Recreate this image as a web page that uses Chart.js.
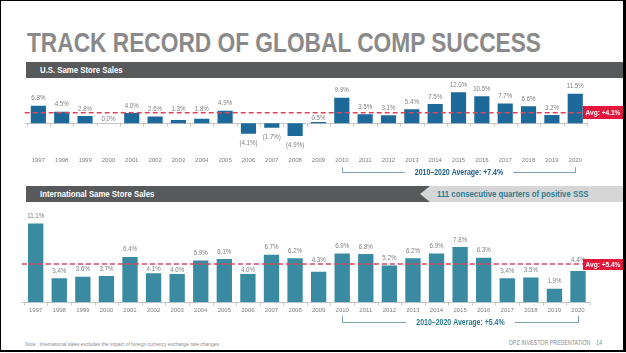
<!DOCTYPE html>
<html>
<head>
<meta charset="utf-8">
<script src="https://cdn.jsdelivr.net/npm/chart.js@4.4.1/dist/chart.umd.min.js"></script>
<style>
  body { margin: 0; width: 626px; height: 353px; overflow: hidden; background: #fff; position: relative;
         font-family: "Liberation Sans Narrow", "Arial Narrow", "Liberation Sans", Arial, sans-serif; }
  .frame { position: absolute; left: 0; top: 0; width: 626px; height: 352px; box-sizing: border-box;
           border-left: 1px solid #000; border-top: 1px solid #000; border-right: 3px solid #000; border-bottom: 2px solid #000; }
  .title { position: absolute; left: 27px; top: 29px; font-size: 28px; line-height: 28px; font-weight: bold;
           color: #8a8a8a; white-space: nowrap; transform-origin: 0 0; }
  .bar { position: absolute; height: 16px; background: #58595b; color: #fff; font-weight: bold; font-size: 9.5px;
         line-height: 16px; box-sizing: border-box; padding-left: 14px; white-space: nowrap; }
  .banner { position: absolute; left: 420px; top: 186px; width: 206px; height: 16px; background: #d6d6d6;
            clip-path: polygon(0 50%, 10px 0, 100% 0, 100% 100%, 10px 100%); }
  .banner span { position: absolute; left: 17px; top: 0; line-height: 16px; font-size: 9.5px; font-weight: bold; color: #2f7b8f; }
  .sq { display: inline-block; white-space: nowrap; transform-origin: 0 50%; }
  .small { position: absolute; font-size: 12px; color: #8a8a8a; white-space: nowrap; transform-origin: 0 0; line-height: 12px; }
  canvas { position: absolute; left: 0; }
</style>
</head>
<body>
<div class="title" id="title">TRACK RECORD OF GLOBAL COMP SUCCESS</div>
<div class="bar" style="left:26px; top:62px; width:600px;"><span class="sq">U.S. Same Store Sales</span></div>
<canvas id="usChart" width="626" height="100" style="top:80px"></canvas>
<div class="bar" style="left:26px; top:186px; width:404px;"><span class="sq">International Same Store Sales</span></div>
<div class="banner"><span class="sq">111 consecutive quarters of positive SSS</span></div>
<canvas id="intlChart" width="626" height="130" style="top:205px"></canvas>
<div class="small" id="note" style="left:25px; top:341px;">Note:&nbsp;&nbsp;International sales excludes the impact of foreign currency exchange rate changes.</div>
<div class="small" id="footer" style="left:509px; top:340px; font-size:13px;">DPZ INVESTOR PRESENTATION&nbsp;&nbsp;&nbsp;&nbsp;14</div>
<div class="frame"></div>

<script>
// values
const years = ['1997', '1998', '1999', '2000', '2001', '2002', '2003', '2004', '2005', '2006', '2007', '2008',
               '2009', '2010', '2011', '2012', '2013', '2014', '2015', '2016', '2017', '2018', '2019', '2020'];
const usSss = [6.8, 4.5, 2.8, 0.0, 4.0, 2.6, 1.3, 1.8, 4.9, -4.1, -1.7, -4.9,
               0.5, 9.9, 3.5, 3.1, 5.4, 7.5, 12.0, 10.5, 7.7, 6.6, 3.2, 11.5];
const intlSss = [11.1, 3.4, 3.6, 3.7, 6.4, 4.1, 4.0, 5.9, 6.1, 4.0, 6.7, 6.2,
                 4.3, 6.9, 6.8, 5.2, 6.2, 6.9, 7.8, 6.3, 3.4, 3.5, 1.9, 4.4];
const usAvg = 4.1;
const intlAvg = 5.4;
const usRecentAvg = 7.4;
const intlRecentAvg = 5.4;
const recentFrom = '2010';
const recentTo = '2020';

const NARROW = '"Liberation Sans Narrow", "Arial Narrow", "Liberation Sans", Arial, sans-serif';
Chart.defaults.font.family = NARROW;

// if no narrow face is installed, squeeze text horizontally instead
const probe = document.createElement('canvas').getContext('2d');
probe.font = `20px ${NARROW}`;
const wNarrow = probe.measureText('Same Store Sales 2010').width;
probe.font = '20px "Liberation Sans", Arial, sans-serif';
const wWide = probe.measureText('Same Store Sales 2010').width;
const SQ = Math.abs(wNarrow - wWide) < 0.5 ? 0.82 : 1;

document.querySelectorAll('.sq').forEach(el => el.style.transform = `scaleX(${SQ})`);
document.getElementById('note').style.transform = `scale(${0.5 * SQ}, 0.5)`;
document.getElementById('footer').style.transform = `scale(${0.5 * SQ}, 0.5)`;
const titleEl = document.getElementById('title');
const tw = titleEl.getBoundingClientRect().width;
if (tw > 0) titleEl.style.transform = `scaleX(${514 / tw})`;

const pct = v => v < 0 ? `(${Math.abs(v).toFixed(1)}%)` : `${v.toFixed(1)}%`;

function squeezedText(ctx, text, x, y, align) {
    ctx.save();
    ctx.translate(x, y);
    ctx.scale(SQ, 1);
    ctx.textAlign = align;
    ctx.fillText(text, 0, 0);
    ctx.restore();
}

const slideMarks = {
    id: 'slideMarks',
    beforeDatasetsDraw(chart) {
        const { ctx, chartArea: a, scales: { x, y } } = chart;
        const y0 = Math.round(y.getPixelForValue(0)) + 0.5;
        const step = x.getPixelForValue(1) - x.getPixelForValue(0);
        ctx.save();
        ctx.strokeStyle = '#c6c6c6';
        ctx.lineWidth = 1;
        ctx.beginPath();
        ctx.moveTo(a.left - 2, y0);
        ctx.lineTo(a.right + 1, y0);
        for (let i = 0; i <= chart.data.labels.length; i++) {
            const px = Math.round(x.getPixelForValue(i) - step / 2) + 0.5;
            ctx.moveTo(px, y0);
            ctx.lineTo(px, y0 + 3);
        }
        ctx.stroke();
        ctx.restore();
    },
    afterDatasetsDraw(chart, args, opts) {
        const { ctx, chartArea: a, scales: { x, y } } = chart;
        const avgY = y.getPixelForValue(opts.avg);
        const W = chart.width;

        ctx.save();
        // average dashed line
        ctx.strokeStyle = '#d8475e';
        ctx.lineWidth = 1.6;
        ctx.setLineDash([5, 3]);
        ctx.beginPath();
        ctx.moveTo(a.left - 2, avgY);
        ctx.lineTo(583, avgY);
        ctx.stroke();
        ctx.setLineDash([]);

        // value labels
        ctx.font = `7.5px ${NARROW}`;
        ctx.fillStyle = '#7f7f7f';
        ctx.textBaseline = 'middle';
        const values = chart.data.datasets[0].data;
        chart.getDatasetMeta(0).data.forEach((bar, i) => {
            const v = values[i];
            let cy;
            if (v < 0) {
                cy = Math.max(bar.y, bar.base) + 9.2;
            } else {
                cy = bar.y - 7.5;
                if (Math.abs(cy - avgY) < 4.5) {
                    cy = bar.y > avgY + 8.5 ? bar.y - 4 : avgY - 4.2;
                }
            }
            squeezedText(ctx, pct(v), bar.x, cy, 'center');
        });

        // red average tag
        ctx.fillStyle = '#e2173b';
        ctx.fillRect(583, Math.round(avgY - opts.tagH / 2), W - 583, opts.tagH);
        ctx.fillStyle = '#fff';
        ctx.font = `bold 8px ${NARROW}`;
        squeezedText(ctx, `Avg: +${opts.avg.toFixed(1)}%`, 585.5, avgY + 0.5, 'left');

        // 2010-2020 bracket
        const bx1 = Math.round(x.getPixelForValue(years.indexOf(recentFrom))) + 0.5;
        const bx2 = Math.round(x.getPixelForValue(years.indexOf(recentTo))) + 0.5;
        const bt = a.bottom + opts.bracketTop;
        const bb = Math.round(a.bottom + opts.bracketBottom) + 0.5;
        const text = `${recentFrom}\u2013${recentTo} Average: +${opts.recent.toFixed(1)}%`;
        ctx.font = `bold 8.5px ${NARROW}`;
        const tW = ctx.measureText(text).width * SQ;
        const mid = (bx1 + bx2) / 2;
        ctx.strokeStyle = opts.lineColor;
        ctx.lineWidth = 1;
        ctx.beginPath();
        ctx.moveTo(bx1, bt);
        ctx.lineTo(bx1, bb);
        ctx.lineTo(mid - tW / 2 - 10, bb);
        ctx.moveTo(mid + tW / 2 + 10, bb);
        ctx.lineTo(bx2, bb);
        ctx.lineTo(bx2, bt);
        ctx.stroke();
        ctx.fillStyle = opts.textColor;
        squeezedText(ctx, text, mid, bb, 'center');
        ctx.restore();
    }
};

function makeChart(id, values, color, yMin, yMax, padding, tickPad, marks) {
    return new Chart(document.getElementById(id), {
        type: 'bar',
        data: {
            labels: years,
            datasets: [{ data: values, backgroundColor: color, barPercentage: 0.65, categoryPercentage: 1.0 }]
        },
        options: {
            responsive: false,
            animation: false,
            layout: { padding: padding },
            plugins: { legend: { display: false }, tooltip: { enabled: false }, slideMarks: marks },
            scales: {
                x: {
                    grid: { display: false, drawTicks: false },
                    border: { display: false },
                    ticks: { color: '#7f7f7f', font: { size: SQ < 1 ? 6 : 6.5 }, padding: tickPad, autoSkip: false, maxRotation: 0 }
                },
                y: { display: false, min: yMin, max: yMax }
            }
        },
        plugins: [slideMarks]
    });
}

// axis height = label height + 2 * tick padding, so paddings below are set for that
makeChart('usChart', usSss, '#1d6a9a', -8, 14,
    { left: 26.7, right: 39.1, top: 7.2, bottom: 3.9 }, 12.5,
    { avg: usAvg, recent: usRecentAvg, tagH: 13, bracketTop: 23.4, bracketBottom: 28.2, lineColor: '#7d9db2', textColor: '#215f8d' });

makeChart('intlChart', intlSss, '#3a8ba2', 0, 12.5,
    { left: 23.9, right: 36.2, top: 8.7, bottom: 16.3 }, 4.6,
    { avg: intlAvg, recent: intlRecentAvg, tagH: 11, bracketTop: 13.4, bracketBottom: 19.5, lineColor: '#7fa3ae', textColor: '#2b7a8e' });
</script>
</body>
</html>
